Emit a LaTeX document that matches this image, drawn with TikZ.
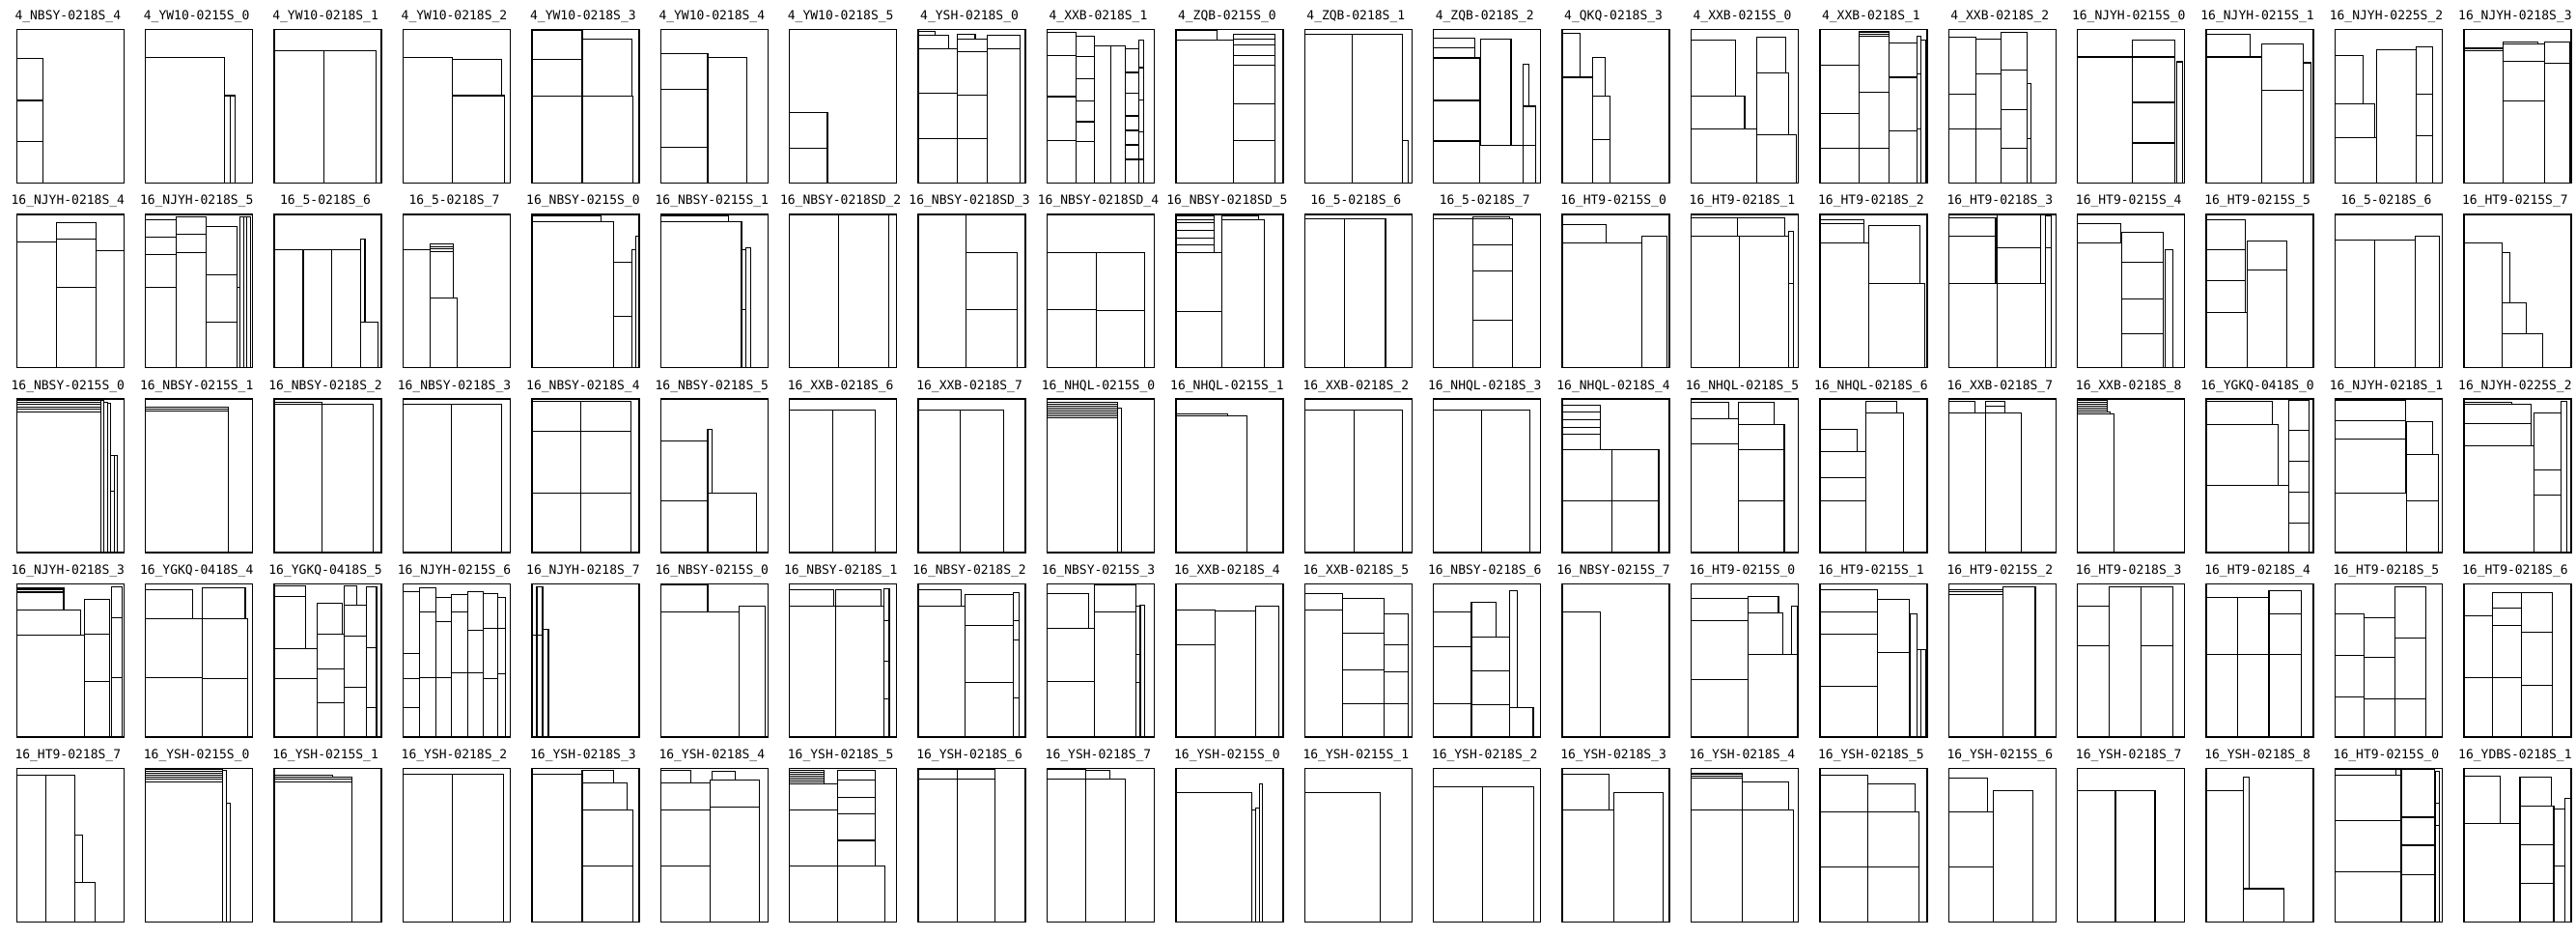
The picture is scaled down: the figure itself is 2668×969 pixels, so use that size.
\documentclass[tikz,border=0pt]{standalone}
\usepackage{fontspec}
\newfontfamily\labfont{DejaVu Sans Mono}
\tikzset{
  lab/.style={font=\labfont\fontsize{3.9pt}{4pt}\selectfont, anchor=base, inner sep=0pt},
  box/.style={draw=black, line width=0.32pt},
  frame/.style={draw=black, line width=0.45pt}
}
\newcommand\pnl[4]{%
  \begin{scope}[shift={({17.3+133.4*#1},{30.7+191.25*#2})}]
    \node[lab] (L-#1-#2) at (53,-10) {#3};
    \begin{scope}[xscale=0.8538,yscale=0.3332]
      \foreach \a/\b/\c/\d in {#4} {\draw[box] (\a,\b) rectangle (\c,\d);}
      \draw[frame] (0,0) rectangle (130,476);
    \end{scope}
  \end{scope}}
\begin{document}
\begin{tikzpicture}[x=0.3pt,y=-0.3pt]
\useasboundingbox (0,0) rectangle (2668,969);
\fill[white] (0,0) rectangle (2668,969);
% row 0
\pnl{0}{0}{4\_NBSY-0218S\_4}{0/89/32/220, 0/220/32/348, 0/348/32/476}
\pnl{1}{0}{4\_YW10-0215S\_0}{0/86/96/476, 96/205/103/476, 103/205/109/476}
\pnl{2}{0}{4\_YW10-0218S\_1}{0/65/60/476, 60/65/123/476}
\pnl{3}{0}{4\_YW10-0218S\_2}{0/86/60/476, 60/92/120/205, 60/205/123/476}
\pnl{4}{0}{4\_YW10-0218S\_3}{0/3/61/93, 0/93/61/206, 0/206/61/476, 61/28/121/206, 61/206/123/476}
\pnl{5}{0}{4\_YW10-0218S\_4}{0/73/57/185, 0/185/57/366, 0/366/57/476, 57/86/105/476}
\pnl{6}{0}{4\_YW10-0218S\_5}{0/257/46/368, 0/368/46/476}
\pnl{7}{0}{4\_YSH-0218S\_0}{0/5/20/17, 0/17/37/58, 0/58/47/198, 0/198/47/338, 0/338/47/476, 47/13/69/28, 47/28/84/68, 47/68/84/203, 47/203/84/338, 47/338/84/476, 84/16/123/58, 84/58/123/476}
\pnl{8}{0}{4\_XXB-0218S\_1}{0/8/35/80, 0/80/35/208, 0/208/35/345, 0/345/35/476, 35/21/57/83, 35/83/57/153, 35/153/57/221, 35/221/57/286, 35/286/57/348, 35/348/57/476, 57/50/77/476, 77/50/95/476, 95/58/111/133, 95/133/111/198, 95/198/111/268, 95/268/111/313, 95/313/111/358, 95/358/111/403, 95/403/111/476, 111/33/117/118, 111/118/117/218, 111/218/117/318, 111/318/117/403, 111/403/117/476}
\pnl{9}{0}{4\_ZQB-0215S\_0}{0/3/50/31, 0/31/70/476, 70/15/120/28, 70/28/120/48, 70/48/120/80, 70/80/120/110, 70/110/120/230, 70/230/120/345, 70/345/120/476}
\pnl{10}{0}{4\_ZQB-0218S\_1}{0/13/58/476, 58/13/118/476, 118/345/125/476}
\pnl{11}{0}{4\_ZQB-0218S\_2}{0/26/50/56, 0/56/50/88, 0/88/56/220, 0/220/56/346, 0/346/56/476, 57/30/94/360, 56/360/109/476, 109/108/116/238, 109/238/124/360, 109/360/124/476}
\pnl{12}{0}{4\_QKQ-0218S\_3}{0/12/22/148, 0/148/37/476, 37/86/52/206, 37/206/58/341, 37/341/58/476}
\pnl{13}{0}{4\_XXB-0215S\_0}{0/31/54/206, 0/206/65/308, 0/308/80/476, 80/23/115/135, 80/135/118/326, 80/326/128/476}
\pnl{14}{0}{4\_XXB-0218S\_1}{0/110/48/261, 0/261/48/369, 0/369/48/476, 48/4/84/8, 48/8/84/13, 48/13/84/20, 48/20/84/195, 48/195/84/369, 48/369/84/476, 84/41/118/148, 84/148/118/315, 84/315/118/476, 118/20/123/138, 118/138/123/308, 118/308/123/476, 123/33/128/476}
\pnl{15}{0}{4\_XXB-0218S\_2}{0/22/33/200, 0/200/33/308, 0/308/33/476, 33/29/64/138, 33/138/64/308, 33/308/64/476, 64/7/95/126, 64/126/95/249, 64/249/95/369, 64/369/95/476, 95/168/100/338, 95/338/100/476}
\pnl{16}{0}{16\_NJYH-0215S\_0}{0/85/67/476, 67/31/118/85, 67/85/118/226, 67/226/118/352, 67/352/118/476, 120/100/127/476}
\pnl{17}{0}{16\_NJYH-0215S\_1}{0/13/53/85, 0/85/67/476, 67/44/118/188, 67/188/118/476, 118/103/127/476}
\pnl{18}{0}{16\_NJYH-0225S\_2}{0/81/34/230, 0/230/48/336, 0/336/50/476, 50/63/98/476, 98/54/118/201, 98/201/118/329, 98/329/118/476}
\pnl{19}{0}{16\_NJYH-0218S\_3}{0/56/48/60, 0/60/48/65, 0/65/48/476, 48/39/90/45, 48/45/98/98, 48/98/98/222, 48/222/98/476, 98/38/128/104, 98/104/128/476}
% row 1
\pnl{0}{1}{16\_NJYH-0218S\_4}{0/86/48/476, 48/26/96/78, 48/78/96/226, 48/226/96/476, 96/114/130/476}
\pnl{1}{1}{16\_NJYH-0218S\_5}{0/16/37/71, 0/71/37/124, 0/124/37/226, 0/226/37/476, 37/9/74/63, 37/63/74/118, 37/118/74/476, 74/39/111/189, 74/189/111/334, 74/334/111/476, 111/226/115/476, 115/9/119/476, 119/9/123/476, 123/9/127/476}
\pnl{2}{1}{16\_5-0218S\_6}{0/111/35/476, 35/111/70/476, 70/111/105/476, 105/78/110/334, 105/334/126/476}
\pnl{3}{1}{16\_5-0218S\_7}{0/111/33/476, 33/93/61/102, 33/102/61/108, 33/108/61/116, 33/116/61/261, 33/261/66/476}
\pnl{4}{1}{16\_NBSY-0215S\_0}{0/6/84/24, 0/24/99/476, 99/149/121/316, 99/316/121/476, 121/111/126/476, 126/69/130/476}
\pnl{5}{1}{16\_NBSY-0215S\_1}{0/6/82/24, 0/24/98/476, 98/111/103/296, 98/296/103/476, 103/103/109/476}
\pnl{6}{1}{16\_NBSY-0218SD\_2}{0/2/60/476, 60/2/120/476}
\pnl{7}{1}{16\_NBSY-0218SD\_3}{0/2/58/476, 58/118/120/296, 58/296/120/476}
\pnl{8}{1}{16\_NBSY-0218SD\_4}{0/118/60/296, 0/296/60/476, 60/118/118/298, 60/298/118/476}
\pnl{9}{1}{16\_NBSY-0218SD\_5}{0/6/46/18, 0/18/46/27, 0/27/46/51, 0/51/46/74, 0/74/46/96, 0/96/46/118, 0/118/56/301, 0/301/56/476, 56/4/100/16, 56/16/107/476}
\pnl{10}{1}{16\_5-0218S\_6}{0/14/48/476, 48/14/98/476}
\pnl{11}{1}{16\_5-0218S\_7}{0/14/48/476, 48/8/92/14, 48/14/96/96, 48/96/96/176, 48/176/96/328, 48/328/96/476}
\pnl{12}{1}{16\_HT9-0215S\_0}{0/33/53/88, 0/88/96/476, 96/68/127/476}
\pnl{13}{1}{16\_HT9-0218S\_1}{0/10/56/69, 56/10/114/69, 0/69/59/476, 59/69/118/476, 118/54/124/216, 118/216/124/476}
\pnl{14}{1}{16\_HT9-0218S\_2}{0/18/53/30, 0/30/53/88, 0/88/59/476, 59/36/121/214, 59/214/127/476}
\pnl{15}{1}{16\_HT9-0218S\_3}{0/10/57/68, 0/68/57/214, 0/214/59/476, 59/214/117/476, 59/3/112/104, 59/104/112/214, 117/5/124/104, 117/104/124/476}
\pnl{16}{1}{16\_HT9-0215S\_4}{0/30/52/88, 0/88/54/476, 54/56/104/150, 54/150/104/262, 54/262/104/371, 54/371/104/476, 106/111/116/476}
\pnl{17}{1}{16\_HT9-0215S\_5}{0/16/47/109, 0/109/47/206, 0/206/47/304, 0/304/50/476, 50/82/98/172, 50/172/98/476}
\pnl{18}{1}{16\_5-0218S\_6}{0/81/48/476, 48/81/97/476, 97/68/127/476}
\pnl{19}{1}{16\_HT9-0215S\_7}{0/88/46/476, 46/119/56/274, 46/274/76/371, 46/371/95/476}
% row 2
\pnl{0}{2}{16\_NBSY-0215S\_0}{0/3/102/10, 0/10/102/17, 0/17/102/24, 0/24/102/31, 0/31/102/41, 0/41/102/476, 102/5/106/476, 106/10/110/476, 110/12/114/476, 114/175/118/286, 114/286/118/476, 118/175/122/476}
\pnl{1}{2}{16\_NBSY-0215S\_1}{0/25/101/31, 0/31/101/37, 0/37/101/476}
\pnl{2}{2}{16\_NBSY-0218S\_2}{0/10/58/15, 0/15/58/476, 58/17/120/476}
\pnl{3}{2}{16\_NBSY-0218S\_3}{0/17/59/476, 59/17/119/476}
\pnl{4}{2}{16\_NBSY-0218S\_4}{0/7/59/101, 0/101/59/291, 0/291/59/476, 59/7/120/101, 59/101/120/291, 59/291/120/476}
\pnl{5}{2}{16\_NBSY-0218S\_5}{0/129/57/317, 0/317/57/476, 57/95/62/291, 57/291/116/476}
\pnl{6}{2}{16\_XXB-0218S\_6}{0/33/52/476, 52/33/104/476}
\pnl{7}{2}{16\_XXB-0218S\_7}{0/33/51/476, 51/33/103/476}
\pnl{8}{2}{16\_NHQL-0215S\_0}{0/9/85/15, 0/15/85/21, 0/21/85/27, 0/27/85/33, 0/33/85/39, 0/39/85/45, 0/45/85/51, 0/51/85/57, 0/57/85/476, 85/27/90/476}
\pnl{9}{2}{16\_NHQL-0215S\_1}{0/45/63/53, 0/53/86/476}
\pnl{10}{2}{16\_XXB-0218S\_2}{0/33/60/476, 60/33/118/476}
\pnl{11}{2}{16\_NHQL-0218S\_3}{0/33/58/476, 58/33/117/476}
\pnl{12}{2}{16\_NHQL-0218S\_4}{0/18/46/41, 0/41/46/63, 0/63/46/87, 0/87/46/110, 0/110/46/158, 0/158/60/317, 0/317/60/476, 60/158/117/317, 60/317/117/476}
\pnl{13}{2}{16\_NHQL-0218S\_5}{0/11/46/60, 0/60/57/140, 0/140/57/476, 57/9/101/79, 57/79/113/157, 57/157/113/317, 57/317/113/476}
\pnl{14}{2}{16\_NHQL-0218S\_6}{0/93/45/163, 0/163/56/243, 0/243/56/317, 0/317/56/476, 56/7/93/43, 56/43/101/476}
\pnl{15}{2}{16\_XXB-0218S\_7}{0/7/32/43, 0/43/45/476, 45/6/68/21, 45/21/68/43, 45/43/88/476}
\pnl{16}{2}{16\_XXB-0218S\_8}{0/3/36/9, 0/9/36/15, 0/15/36/21, 0/21/36/27, 0/27/36/33, 0/33/36/39, 0/39/40/45, 0/45/44/476}
\pnl{17}{2}{16\_YGKQ-0418S\_0}{0/8/80/80, 0/80/87/268, 0/268/100/476, 100/3/125/96, 100/96/125/193, 100/193/125/288, 100/288/125/386, 100/386/125/476}
\pnl{18}{2}{16\_NJYH-0218S\_1}{0/3/85/66, 0/66/85/125, 0/125/85/293, 0/293/87/476, 87/70/118/173, 87/173/125/317, 87/317/125/476}
\pnl{19}{2}{16\_NJYH-0225S\_2}{0/9/58/15, 0/15/82/76, 0/76/82/145, 0/145/85/476, 85/43/118/219, 85/219/118/298, 85/298/118/476, 118/7/125/476}
% row 3
\pnl{0}{3}{16\_NJYH-0218S\_3}{0/11/57/15, 0/15/57/19, 0/19/57/23, 0/23/57/27, 0/27/57/80, 0/80/78/160, 0/160/82/476, 82/48/113/155, 82/155/113/303, 82/303/113/476, 115/8/128/105, 115/105/128/292, 115/292/128/476}
\pnl{1}{3}{16\_YGKQ-0418S\_4}{0/17/57/108, 0/108/69/290, 0/290/69/476, 69/12/121/108, 69/108/124/295, 69/295/124/476}
\pnl{2}{3}{16\_YGKQ-0418S\_5}{0/6/38/40, 0/40/38/200, 0/200/52/295, 0/295/52/476, 52/60/82/155, 52/155/85/265, 52/265/85/370, 52/370/85/476, 85/6/100/65, 85/65/112/162, 85/162/112/322, 85/322/112/476, 112/8/124/198, 112/198/124/385, 112/385/124/476}
\pnl{3}{3}{16\_NJYH-0215S\_6}{0/25/20/216, 0/216/20/295, 0/295/20/383, 0/383/20/476, 20/12/40/87, 20/87/40/290, 20/290/40/476, 40/42/59/118, 40/118/59/290, 40/290/59/476, 59/32/78/88, 59/88/78/277, 59/277/78/476, 78/23/97/143, 78/143/97/275, 78/275/97/476, 97/30/115/138, 97/138/115/293, 97/293/115/476, 115/42/124/138, 115/138/124/280, 115/280/124/476}
\pnl{4}{3}{16\_NJYH-0218S\_7}{0/160/6/476, 6/8/13/160, 6/160/13/476, 13/142/20/476}
\pnl{5}{3}{16\_NBSY-0215S\_0}{0/4/57/86, 0/86/95/476, 95/70/127/476}
\pnl{6}{3}{16\_NBSY-0218S\_1}{0/18/54/70, 56/18/111/70, 0/70/56/476, 56/70/114/476, 114/15/121/113, 114/113/121/240, 114/240/121/358, 114/358/121/476}
\pnl{7}{3}{16\_NBSY-0218S\_2}{0/18/52/70, 0/70/57/476, 57/33/115/128, 57/128/115/305, 57/305/115/476, 115/27/122/113, 115/113/122/175, 115/175/122/355, 115/355/122/476}
\pnl{8}{3}{16\_NBSY-0215S\_3}{0/30/50/138, 0/138/57/303, 0/303/57/476, 57/4/108/88, 57/88/108/476, 108/70/113/218, 108/218/113/305, 108/305/113/476, 113/65/118/476}
\pnl{9}{3}{16\_XXB-0218S\_4}{0/80/48/190, 0/190/48/476, 48/83/97/476, 97/70/125/476}
\pnl{10}{3}{16\_XXB-0218S\_5}{0/30/46/82, 0/82/46/476, 46/46/96/154, 46/154/96/266, 46/266/96/372, 46/372/96/476, 96/93/126/190, 96/190/126/274, 96/274/126/372, 96/372/126/476}
\pnl{11}{3}{16\_NBSY-0218S\_6}{0/86/46/196, 0/196/46/372, 0/372/46/476, 46/57/76/166, 46/166/92/270, 46/270/92/376, 46/376/92/476, 92/20/102/385, 92/385/121/476}
\pnl{12}{3}{16\_NBSY-0215S\_7}{0/86/46/476}
\pnl{13}{3}{16\_HT9-0215S\_0}{0/45/69/113, 0/113/69/298, 0/298/69/476, 69/38/106/90, 69/90/111/220, 69/220/129/476, 122/68/129/220}
\pnl{14}{3}{16\_HT9-0215S\_1}{0/18/70/86, 0/86/70/157, 0/157/70/318, 0/318/70/476, 70/48/108/212, 70/212/108/476, 110/93/118/476, 118/205/123/476, 123/205/128/476}
\pnl{15}{3}{16\_HT9-0215S\_2}{0/18/66/24, 0/24/66/32, 0/32/66/476, 66/9/105/476}
\pnl{16}{3}{16\_HT9-0218S\_3}{0/70/38/193, 0/193/38/476, 38/9/77/476, 77/9/116/193, 77/193/116/476}
\pnl{17}{3}{16\_HT9-0218S\_4}{0/42/38/220, 0/220/38/476, 38/42/76/220, 38/220/76/476, 76/21/115/93, 76/93/115/220, 76/220/115/476}
\pnl{18}{3}{16\_HT9-0218S\_5}{0/93/35/222, 0/222/35/352, 0/352/35/476, 35/106/73/228, 35/228/73/358, 35/358/73/476, 73/8/110/168, 73/168/110/358, 73/358/110/476}
\pnl{19}{3}{16\_HT9-0218S\_6}{0/100/35/292, 0/292/35/476, 35/28/70/75, 35/75/70/128, 35/128/70/292, 35/292/70/476, 70/28/107/150, 70/150/107/315, 70/315/107/476}
% row 4
\pnl{0}{4}{16\_HT9-0218S\_7}{0/20/35/476, 35/20/70/476, 70/207/80/353, 70/353/95/476}
\pnl{1}{4}{16\_YSH-0215S\_0}{0/2/94/7, 0/7/94/13, 0/13/94/19, 0/19/94/25, 0/25/94/33, 0/33/94/40, 0/40/94/476, 94/4/98/476, 98/106/103/476}
\pnl{2}{4}{16\_YSH-0215S\_1}{0/19/71/25, 0/25/94/33, 0/33/94/40, 0/40/94/476}
\pnl{3}{4}{16\_YSH-0218S\_2}{0/17/60/476, 60/17/122/476}
\pnl{4}{4}{16\_YSH-0218S\_3}{0/17/61/476, 61/6/99/43, 61/43/115/128, 61/128/123/303, 61/303/123/476}
\pnl{5}{4}{16\_YSH-0218S\_4}{0/6/37/43, 0/43/60/128, 0/128/60/303, 0/303/60/476, 62/9/90/35, 60/35/120/120, 60/120/120/476}
\pnl{6}{4}{16\_YSH-0218S\_5}{0/4/42/10, 0/10/42/16, 0/16/42/22, 0/22/42/28, 0/28/42/34, 0/34/42/40, 0/40/42/46, 0/48/58/128, 0/128/58/303, 0/303/58/476, 58/6/104/36, 58/36/104/90, 58/90/104/141, 58/141/104/223, 58/223/104/303, 58/303/116/476}
\pnl{7}{4}{16\_YSH-0218S\_6}{0/3/47/33, 0/33/47/476, 47/3/93/33, 47/33/93/476}
\pnl{8}{4}{16\_YSH-0218S\_7}{0/3/47/33, 0/33/47/476, 47/6/76/33, 47/33/95/476}
\pnl{9}{4}{16\_YSH-0215S\_0}{0/73/92/476, 92/128/97/476, 97/122/101/476, 101/46/105/476}
\pnl{10}{4}{16\_YSH-0215S\_1}{0/73/92/476}
\pnl{11}{4}{16\_YSH-0218S\_2}{0/55/60/476, 60/55/122/476}
\pnl{12}{4}{16\_YSH-0218S\_3}{0/17/57/129, 0/129/62/476, 62/73/122/476}
\pnl{13}{4}{16\_YSH-0218S\_4}{0/13/62/18, 0/18/62/23, 0/23/62/30, 0/30/62/129, 0/129/62/476, 62/41/118/129, 62/129/124/476}
\pnl{14}{4}{16\_YSH-0218S\_5}{0/20/58/135, 0/135/58/305, 0/305/58/476, 58/47/115/135, 58/135/120/305, 58/305/120/476}
\pnl{15}{4}{16\_YSH-0215S\_6}{0/28/47/135, 0/135/54/305, 0/305/54/476, 54/68/102/476}
\pnl{16}{4}{16\_YSH-0218S\_7}{0/68/46/476, 46/68/94/476}
\pnl{17}{4}{16\_YSH-0218S\_8}{0/68/45/476, 45/25/52/373, 45/373/94/476}
\pnl{18}{4}{16\_HT9-0215S\_0}{0/3/74/19, 74/1/80/19, 0/19/80/161, 0/161/80/321, 0/321/80/476, 81/3/121/151, 81/151/121/238, 81/238/121/329, 81/329/121/476, 122/8/127/106, 122/106/127/176, 122/176/127/476}
\pnl{19}{4}{16\_YDBS-0218S\_1}{0/23/44/170, 0/170/68/476, 68/26/106/115, 68/115/109/236, 68/236/109/357, 68/357/109/476, 109/125/123/302, 109/302/123/476, 123/92/129/476}
\end{tikzpicture}
\end{document}
